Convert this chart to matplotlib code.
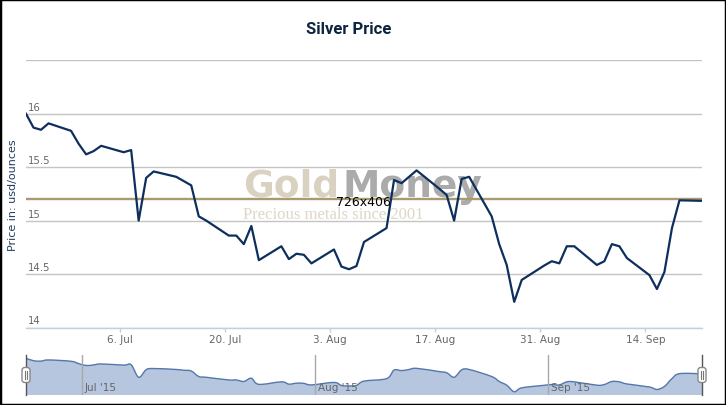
import datetime as dt

import numpy as np
import pandas as pd
import matplotlib

matplotlib.use("Agg")
import matplotlib.pyplot as plt
import matplotlib.dates as mdates
from matplotlib.path import Path
from matplotlib.patches import PathPatch, FancyBboxPatch, Rectangle

# trading days, Jun 23 - Sep 21 2015 (weekdays only)
dates = pd.bdate_range("2015-06-23", "2015-09-21")
prices = [
    16.00, 15.87, 15.85, 15.91, 15.84, 15.72,
    15.62, 15.65, 15.70, 15.64, 15.66, 15.00, 15.40, 15.46, 15.41, 15.37,
    15.33, 15.04, 15.00, 14.86, 14.86, 14.78, 14.95, 14.63, 14.76, 14.64,
    14.69, 14.68, 14.60,
    14.73, 14.57, 14.545, 14.575, 14.80, 14.93, 15.38, 15.35, 15.41, 15.47,
    15.30, 15.24, 15.00, 15.39, 15.41, 15.04, 14.78, 14.585, 14.24, 14.445,
    14.58,
    14.62, 14.60, 14.76, 14.76, 14.585, 14.62, 14.78, 14.76, 14.65, 14.49,
    14.36, 14.52, 14.93, 15.19, 15.185,
]
reference_price = 15.2

x_ticks = ["2015-07-06", "2015-07-20", "2015-08-03", "2015-08-17", "2015-08-31", "2015-09-14"]
x_tick_labels = ["6. Jul", "20. Jul", "3. Aug", "17. Aug", "31. Aug", "14. Sep"]
y_ticks = [14, 14.5, 15, 15.5, 16, 16.5]
y_tick_labels = ["14", "14.5", "15", "15.5", "16", ""]
month_starts = ["2015-07-01", "2015-08-01", "2015-09-01"]
month_labels = ["Jul '15", "Aug '15", "Sep '15"]

# data points are stamped early afternoon, ticks at midnight
x = mdates.date2num(dates + pd.Timedelta(hours=13))
xt = mdates.date2num(pd.to_datetime(x_ticks))
xm = mdates.date2num(pd.to_datetime(month_starts))
y = np.array(prices)

W, H = 726, 406
fig = plt.figure(figsize=(W / 100, H / 100), dpi=100)
fig.patch.set_facecolor("white")

navy = "#0e2f5e"
label_grey = "#666666"

# ---- main chart ----
ax = fig.add_axes([26 / W, 1 - 328.5 / H, 676 / W, 267.2 / H])
ax.set_xlim(x[0], x[-1])
ax.set_ylim(14, 16.5)
ax.plot(x, y, color=navy, lw=1.6, zorder=5, solid_joinstyle="round")
ax.axhline(reference_price, color="#a99a72", lw=1.7, zorder=4)

ax.set_yticks(y_ticks)
ax.set_yticklabels([])
ax.tick_params(axis="y", length=0)
ax.yaxis.grid(True, color="#c4c4c4", lw=1, zorder=0)
for v, lab in zip(y_ticks, y_tick_labels):
    ax.annotate(lab, xy=(0, v), xycoords=("axes fraction", "data"),
                xytext=(2, 2), textcoords="offset pixels",
                ha="left", va="bottom", fontsize=7.3, color=label_grey)

ax.set_xticks(xt, x_tick_labels)
ax.tick_params(axis="x", length=3, width=1, color="#c0d0e0",
               labelcolor=label_grey, labelsize=7.5, pad=1.5)
for side in ["top", "left", "right"]:
    ax.spines[side].set_visible(False)
ax.spines["bottom"].set_color("#c0d0e0")
ax.spines["bottom"].set_linewidth(1)

ax.set_ylabel("Price in: usd/ounces", fontsize=8, color="#233a5e", labelpad=2)

# watermark
ax.text(243 / W, 1 - 197 / H, "Gold", transform=fig.transFigure, fontsize=27,
        fontweight="bold", color="#d9d2c0", zorder=1)
ax.text(343 / W, 1 - 197 / H, "Money", transform=fig.transFigure, fontsize=27,
        fontweight="bold", color="#ababab", zorder=1)
ax.text(243 / W, 1 - 219.5 / H, "Precious metals since 2001", transform=fig.transFigure,
        fontsize=12, family=["Liberation Serif", "DejaVu Serif"], color="#ded7c6", zorder=1)

fig.text(349 / W, 1 - 30 / H, "Silver Price", ha="center", va="center",
         fontsize=12, fontweight="bold", color="#0d2340",
         family=["Roboto", "DejaVu Sans"])

# ---- navigator ----
nav = fig.add_axes([26 / W, 10 / H, 676 / W, 40 / H])
nav.set_xlim(x[0], x[-1])
nav.set_ylim(14.07, 16.17)
nav.axis("off")

# smooth curve through the points (catmull-rom as bezier segments)
pts = np.column_stack([x, y])
ext = np.vstack([pts[0], pts, pts[-1]])
verts = [pts[0]]
codes = [Path.MOVETO]
for i in range(len(pts) - 1):
    p0, p1, p2, p3 = ext[i], ext[i + 1], ext[i + 2], ext[i + 3]
    verts += [p1 + (p2 - p0) / 6, p2 - (p3 - p1) / 6, p2]
    codes += [Path.CURVE4] * 3
line_path = Path(verts, codes)
bottom = 14.07
area_path = Path([(x[0], bottom)] + verts + [(x[-1], bottom), (x[0], bottom)],
                 [Path.MOVETO, Path.LINETO] + codes[1:] + [Path.LINETO, Path.CLOSEPOLY])
nav.add_patch(PathPatch(area_path, facecolor="#b5c6de", edgecolor="none", zorder=1))
nav.add_patch(PathPatch(line_path, facecolor="none", edgecolor="#5577aa", lw=1, zorder=2))

for m, lab in zip(xm, month_labels):
    nav.axvline(m, color="#a8a8a8", lw=1, zorder=3)
    nav.annotate(lab, xy=(m, 0), xycoords=("data", "axes fraction"),
                 xytext=(3, 3), textcoords="offset pixels",
                 ha="left", va="bottom", fontsize=7.5, color=label_grey, zorder=4)

for xe in [0, 1]:
    nav.plot([xe, xe], [0, 1], transform=nav.transAxes, color="#555555", lw=1,
             clip_on=False, zorder=5)
    hw, hh = 8 / 676, 15 / 40
    nav.add_patch(FancyBboxPatch((xe - hw / 2, 0.5 - hh / 2), hw, hh,
                                 boxstyle="round,pad=0,rounding_size=0.004",
                                 transform=nav.transAxes, facecolor="white",
                                 edgecolor="#888888", lw=1, clip_on=False, zorder=6,
                                 mutation_aspect=676 / 40))
    for dx in [-1.2 / 676, 1.2 / 676]:
        nav.plot([xe + dx, xe + dx], [0.5 - 4 / 40, 0.5 + 4 / 40], transform=nav.transAxes,
                 color="#777777", lw=0.8, clip_on=False, zorder=7)

fig.text(0.5, 0.5, "726x406", ha="center", va="center", fontsize=9, color="black", zorder=10)

fig.patches.append(Rectangle((0, 0), 1, 1, transform=fig.transFigure, fill=False,
                             edgecolor="black", lw=2.5))

fig.savefig("out.png", dpi=100)
